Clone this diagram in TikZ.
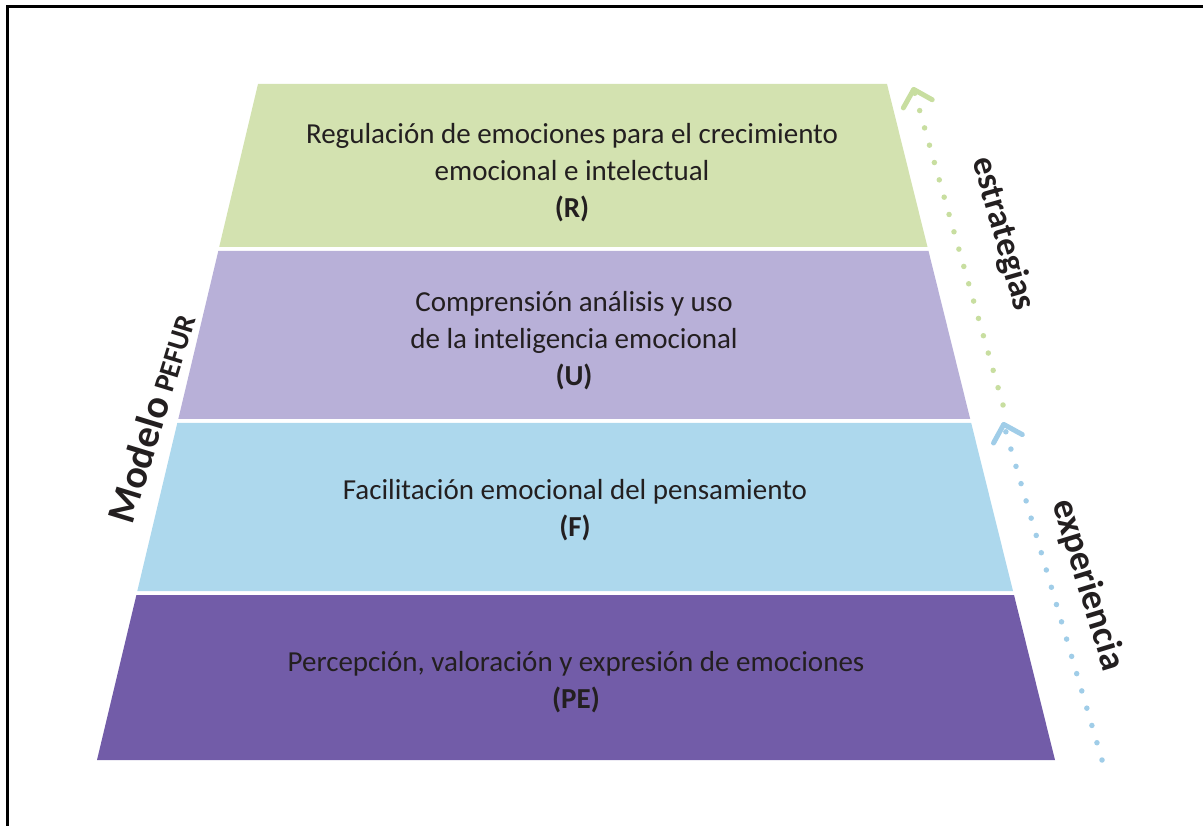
\documentclass[tikz,border=0pt]{standalone}
\usepackage{fontspec}
\setmainfont{Carlito}
\usetikzlibrary{arrows.meta}
\definecolor{bandR}{RGB}{211,226,176}
\definecolor{bandU}{RGB}{184,176,216}
\definecolor{bandF}{RGB}{173,216,237}
\definecolor{bandPE}{RGB}{114,92,168}
\definecolor{dotgreen}{RGB}{200,222,160}
\definecolor{dotblue}{RGB}{160,205,232}
\definecolor{ink}{RGB}{35,31,32}
\begin{document}
\begin{tikzpicture}
  [x=1pt,y=-1pt,
   every node/.style={text=ink,align=center,font=\fontsize{29}{37}\selectfont},
   side/.style={font=\bfseries\fontsize{35}{40}\selectfont},
   dots/.style={line width=5.5pt,line cap=round,dash pattern=on 0pt off 18pt,
     -{Straight Barb[round,length=15pt,width=30pt,line width=5pt]}}]
  \useasboundingbox (0,0) rectangle (1203,826);
  \draw[line width=3pt] (7,826) -- (7,7) -- (1203,7);

  % pyramid bands
  \fill[bandR]  (258,84)    -- (887,84)    -- (927.5,247) -- (219.2,247) -- cycle;
  \fill[bandU]  (218.3,251) -- (928.5,251) -- (970.2,419) -- (178.3,419) -- cycle;
  \fill[bandF]  (177.3,423) -- (971.2,423) -- (1013,591)  -- (137.3,591) -- cycle;
  \fill[bandPE] (136.4,595) -- (1014,595)  -- (1055,760)  -- (97,760)    -- cycle;

  \node (r)  at (572,173) {Regulación de emociones para el crecimiento\\emocional e intelectual\\\textbf{(R)}};
  \node (u)  at (574,341) {Comprensión análisis y uso\\de la inteligencia emocional\\\textbf{(U)}};
  \node (f)  at (575,510) {Facilitación emocional del pensamiento\\\textbf{(F)}};
  \node (pe) at (576,682) {Percepción, valoración y expresión de emociones\\\textbf{(PE)}};

  \node[side,rotate=73] (model) at (151,418)
    {{\fontsize{40}{44}\selectfont Modelo} {\fontsize{29}{30}\selectfont PEFUR}};
  \node[side,rotate=-74] (strat) at (1003,234) {estrategias};
  \node[side,rotate=-73] (exper) at (1088,585) {\fontsize{37}{40}\selectfont experiencia};

  \coordinate (b1) at (1102,760);
  \coordinate (b2) at (1003,422);
  \coordinate (g1) at (1003,405);
  \coordinate (g2) at (913,87);

  \foreach \from/\to/\col in {b1/b2/dotblue, g1/g2/dotgreen}
    \draw[dots,\col] (\from) -- (\to);

\end{tikzpicture}
\end{document}
